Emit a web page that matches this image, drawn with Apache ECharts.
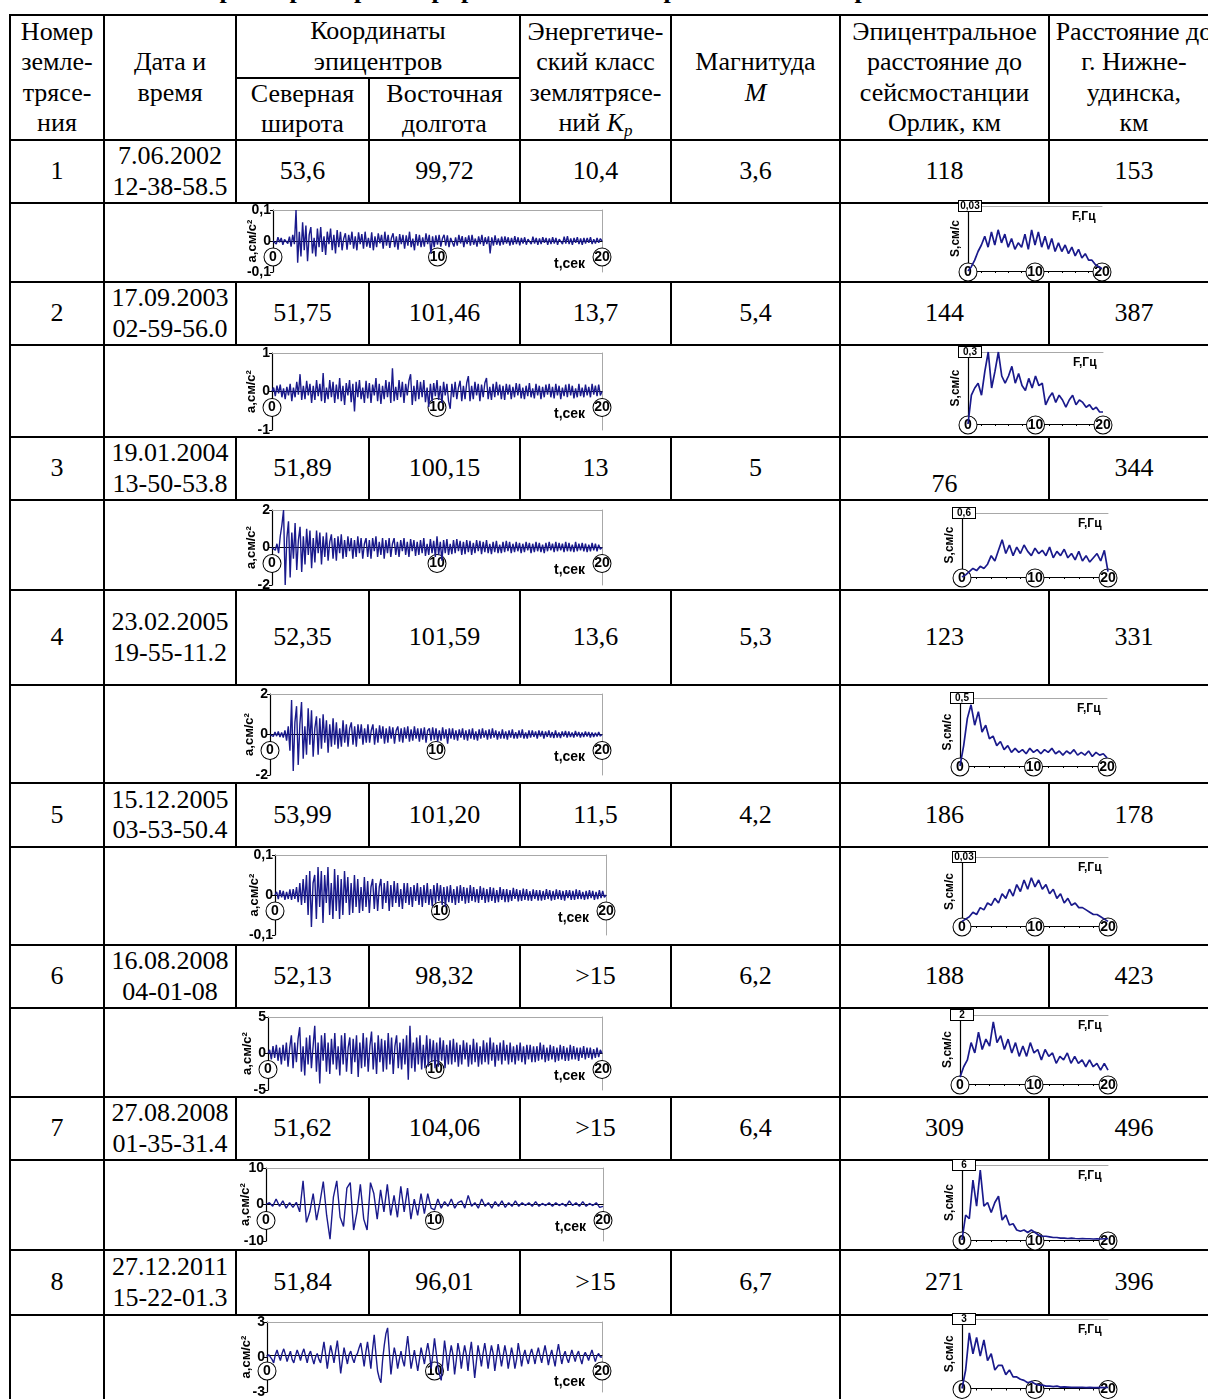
<!DOCTYPE html>
<html>
<head>
<meta charset="utf-8">
<script src="https://cdn.jsdelivr.net/npm/echarts@6/dist/echarts.min.js"></script>
<style>
  body { margin:0; background:#fff; }
  #page { position:relative; width:1208px; height:1399px; overflow:hidden; background:#fff;
          font-family:"Liberation Serif","Times New Roman",serif; font-size:26px; color:#000; }
  .cell { position:absolute; box-sizing:border-box; border:2px solid #000;
          display:flex; align-items:center; justify-content:center; text-align:center; line-height:30.5px; }
  .title { position:absolute; left:0; width:1208px; top:-25px; text-align:center; font-weight:bold; font-size:26px; }
  #plots { position:absolute; left:0; top:0; width:1208px; height:1399px; pointer-events:none; }
  sub { font-size:17px; vertical-align:-5px; line-height:0; }
</style>
</head>
<body>
<div id="page">
  <div class="title">Параметры зарегистрированных землетрясений и спектры их записей</div>
  <div id="cells"></div>
  <div id="plots"></div>
</div>
<script>
// ---- table values ----
const eqNumbers = ['1','2','3','4','5','6','7','8'];
const eqDates = ['7.06.2002','17.09.2003','19.01.2004','23.02.2005','15.12.2005','16.08.2008','27.08.2008','27.12.2011'];
const eqTimes = ['12-38-58.5','02-59-56.0','13-50-53.8','19-55-11.2','03-53-50.4','04-01-08','01-35-31.4','15-22-01.3'];
const latitudes = ['53,6','51,75','51,89','52,35','53,99','52,13','51,62','51,84'];
const longitudes = ['99,72','101,46','100,15','101,59','101,20','98,32','104,06','96,01'];
const energyClass = ['10,4','13,7','13','13,6','11,5','>15','>15','>15'];
const magnitudes = ['3,6','5,4','5','5,3','4,2','6,2','6,4','6,7'];
const distOrlik = ['118','144','76','123','186','188','309','271'];
const distNizhneudinsk = ['153','387','344','331','178','423','496','396'];

// ---- accelerograms, a (cm/s^2), evenly sampled over 0..20 s ----
const accelLimits = [0.1, 1, 2, 2, 0.1, 5, 10, 3];
const accel1 = [0,0.006,-0.01,0.012,-0.004,0.01,-0.012,0.005,0.011,-0.008,
  0.014,-0.018,0.02,-0.01,0.1,-0.07,0.03,-0.05,0.06,-0.03,
  0.05,-0.065,0.02,0.045,-0.04,0.01,-0.05,0.04,-0.02,0.045,
  -0.035,0.015,-0.045,0.03,-0.01,0.04,-0.03,0.02,-0.04,0.035,
  -0.02,0.03,-0.03,0.008,0.025,-0.028,0.02,-0.012,0.03,-0.025,
  0.015,-0.03,0.028,-0.01,0.022,-0.025,0.03,-0.018,0.01,-0.022,
  0.028,-0.03,0.015,-0.02,0.025,-0.008,0.02,-0.025,0.03,-0.015,
  0.02,-0.022,0.01,0.025,-0.02,0.015,-0.028,0.022,-0.01,0.02,
  -0.025,0.018,-0.015,0.03,-0.02,0.008,-0.03,0.022,-0.015,0.02,
  -0.02,0.012,-0.018,0.025,-0.01,0.02,-0.04,0.015,-0.02,0.018,
  -0.012,0.02,-0.018,0.008,0.02,-0.015,0.018,-0.02,0.01,0.015,
  -0.018,0.012,-0.015,0.02,-0.008,0.016,-0.02,0.012,-0.01,0.018,
  -0.015,0.02,-0.012,0.008,-0.018,0.015,-0.01,0.02,-0.016,0.012,
  -0.01,0.015,-0.04,0.012,-0.015,0.018,-0.012,0.008,-0.015,0.014,
  -0.012,0.015,-0.008,0.012,-0.015,0.01,-0.012,0.016,-0.01,0.012,
  -0.014,0.01,-0.008,0.012,-0.012,0.006,0.012,-0.01,0.014,-0.008,
  0.01,-0.012,0.008,-0.01,0.012,-0.006,0.01,-0.012,0.008,-0.01,
  0.012,-0.008,0.01,-0.012,0.006,0.01,-0.01,0.014,-0.008,0.016,
  -0.01,0.008,-0.012,0.01,-0.006,0.012,-0.01,0.008,-0.012,0.01,
  -0.008,0.01,-0.006,0.012,-0.01,0.006,-0.008,0.01,-0.006,0.008,0];
const accel2 = [0,0.1,-0.12,0.15,-0.05,0.18,-0.15,0.08,-0.2,0.12,
  -0.1,0.2,-0.25,0.1,-0.15,0.25,-0.08,0.45,-0.22,0.15,
  -0.2,0.28,-0.1,0.2,-0.3,0.15,-0.22,0.3,-0.12,0.2,
  -0.25,0.48,-0.3,0.1,-0.2,0.3,-0.15,0.25,-0.3,0.18,
  -0.2,0.35,-0.25,0.15,-0.35,0.22,-0.1,0.3,-0.28,0.2,
  -0.52,0.25,-0.15,0.3,-0.2,0.1,-0.3,0.28,-0.18,0.22,
  -0.3,0.18,-0.1,0.35,-0.25,0.2,-0.32,0.15,-0.2,0.3,
  -0.15,0.25,-0.3,0.6,-0.25,0.12,-0.22,0.3,-0.15,0.25,
  -0.3,0.2,-0.1,0.28,0.45,-0.35,0.15,-0.25,0.3,-0.2,
  0.25,-0.15,0.3,-0.28,0.1,-0.4,0.2,-0.25,0.22,-0.12,
  0.3,-0.22,0.15,-0.3,0.25,-0.1,0.2,-0.25,-0.45,0.2,
  -0.15,0.25,-0.2,0.1,0.28,-0.25,0.15,-0.2,0.22,0.4,
  -0.25,0.15,-0.2,0.25,-0.1,0.2,-0.25,0.18,-0.15,0.22,
  0.35,-0.2,0.12,-0.22,0.2,-0.15,0.25,-0.1,0.18,-0.2,
  0.15,-0.22,0.2,-0.08,0.18,-0.2,0.12,-0.15,0.22,-0.1,
  0.2,-0.18,0.1,-0.2,0.15,-0.12,0.22,-0.15,0.08,-0.18,
  0.2,-0.1,0.15,-0.2,0.12,-0.15,0.18,-0.08,0.2,-0.15,
  0.12,-0.18,0.2,-0.1,0.15,-0.2,0.1,-0.12,0.18,-0.15,
  0.2,-0.1,0.15,-0.18,0.08,-0.15,0.2,-0.12,0.1,-0.15,
  0.18,-0.1,0.12,-0.15,0.2,-0.08,0.15,-0.12,0.18,-0.1,0];
const accel3 = [0,0.1,-0.15,0.2,-0.3,0.6,1.2,2.0,-2.0,0.5,
  1.4,-1.6,0.8,-0.6,1.3,-1.2,0.4,1.1,-1.3,0.6,
  -0.9,1.0,-0.4,0.9,-1.1,0.5,-0.8,0.9,-0.3,0.8,
  -0.9,0.6,-0.5,0.8,-0.7,0.3,0.7,-0.6,0.5,-0.7,
  0.6,-0.3,0.7,-0.6,0.4,-0.5,0.6,-0.2,0.5,-0.6,
  0.4,-0.5,0.6,-0.3,0.5,-0.6,0.2,0.5,-0.5,0.4,
  -0.6,0.5,-0.2,0.6,-0.5,0.3,-0.4,0.5,-0.6,0.4,
  -0.3,0.5,-0.5,0.2,0.5,-0.4,0.3,-0.5,0.4,-0.2,
  0.5,-0.4,0.3,-0.5,0.45,-0.2,0.4,-0.45,0.3,-0.4,
  0.4,-0.3,0.5,-0.45,0.2,-0.4,0.45,-0.3,0.35,-0.5,
  0.6,-0.4,0.3,-0.7,0.4,-0.3,0.45,-0.4,0.2,-0.35,
  0.4,-0.3,0.45,-0.2,0.35,-0.4,0.3,-0.35,0.4,-0.25,
  0.35,-0.4,0.25,-0.3,0.4,-0.2,0.35,-0.35,0.3,-0.25,
  0.4,-0.3,0.2,-0.35,0.3,-0.25,0.35,-0.3,0.15,-0.3,
  0.3,-0.25,0.35,-0.2,0.3,-0.3,0.2,-0.25,0.3,-0.2,
  0.25,-0.3,0.2,-0.25,0.3,-0.15,0.25,-0.3,0.2,-0.25,
  0.3,-0.2,0.25,-0.25,0.15,-0.3,0.25,-0.2,0.3,-0.15,
  0.2,-0.25,0.3,-0.2,0.25,-0.15,0.2,-0.25,0.3,-0.2,
  0.25,-0.2,0.15,-0.25,0.3,-0.2,0.2,-0.15,0.25,-0.2,
  0.2,-0.25,0.15,-0.2,0.25,-0.15,0.2,-0.2,0.15,-0.1,0];
const accel4 = [0,0.08,-0.1,0.12,-0.08,0.15,-0.12,0.1,-0.15,0.2,
  -0.3,0.4,-0.8,1.7,-1.8,0.6,1.4,-1.5,0.5,1.6,
  -1.2,0.4,-1.0,1.3,-0.5,1.2,-1.1,0.3,0.9,-1.0,
  0.8,-0.7,1.0,-0.4,0.7,-0.9,0.5,-0.6,0.8,-0.5,
  0.6,-0.7,0.3,-0.6,0.7,-0.4,0.5,-0.6,0.3,0.6,
  -0.5,0.4,-0.6,0.5,-0.2,0.5,-0.5,0.3,-0.4,0.5,
  -0.4,0.2,0.5,-0.5,0.3,-0.4,0.45,-0.2,0.4,-0.45,
  0.3,-0.4,0.4,-0.2,0.35,-0.45,0.2,0.4,-0.35,0.3,
  -0.4,0.35,-0.2,0.4,-0.35,0.25,-0.3,0.4,-0.2,0.3,
  -0.35,0.3,-0.25,0.35,-0.4,0.2,0.3,-0.3,0.35,-0.25,
  0.3,-0.35,0.2,-0.3,0.35,-0.2,0.25,-0.45,0.3,-0.2,
  0.3,-0.25,0.2,-0.3,0.25,-0.15,0.3,-0.25,0.2,-0.3,
  0.25,-0.2,0.3,-0.25,0.15,-0.3,0.25,-0.2,0.3,-0.15,
  0.2,-0.25,0.25,-0.2,0.3,-0.15,0.2,-0.25,0.15,-0.2,
  0.25,-0.2,0.15,-0.25,0.2,-0.15,0.25,-0.2,0.12,-0.2,
  0.2,-0.15,0.25,-0.2,0.1,-0.2,0.2,-0.15,0.2,-0.12,
  0.15,-0.2,0.2,-0.1,0.18,-0.2,0.15,-0.12,0.2,-0.15,
  0.12,-0.18,0.2,-0.15,0.1,-0.18,0.15,-0.1,0.18,-0.15,
  0.15,-0.12,0.1,-0.15,0.18,-0.1,0.12,-0.15,0.1,-0.12,
  0.15,-0.1,0.12,-0.15,0.1,-0.12,0.08,-0.1,0.12,-0.08,0];
const accel5 = [0,0.008,-0.01,0.012,-0.006,0.01,-0.012,0.008,-0.01,0.014,
  -0.012,0.015,-0.01,0.02,-0.018,0.03,-0.025,0.04,-0.02,0.05,
  -0.05,0.06,-0.08,0.03,0.05,-0.06,0.07,-0.03,0.06,-0.07,
  0.05,-0.02,0.07,-0.05,0.03,-0.06,0.065,-0.04,0.05,-0.06,
  0.04,-0.05,0.06,-0.02,0.045,-0.05,0.03,-0.045,0.05,-0.03,
  0.04,-0.045,0.02,-0.04,0.045,-0.03,0.035,-0.045,0.02,0.04,
  -0.035,0.03,-0.04,0.02,0.04,-0.035,0.03,-0.02,0.035,-0.04,
  0.025,-0.03,0.035,-0.02,0.03,-0.03,0.015,-0.035,0.03,-0.02,
  0.03,-0.025,0.02,-0.03,0.025,-0.015,0.03,-0.025,0.02,-0.03,
  0.025,-0.02,0.03,-0.025,0.015,-0.028,0.025,-0.02,0.03,-0.015,
  0.025,-0.025,0.02,-0.03,0.022,-0.018,0.025,-0.02,0.015,-0.025,
  0.022,-0.02,0.025,-0.015,0.02,-0.022,0.018,-0.02,0.025,-0.015,
  0.02,-0.018,0.015,-0.02,0.022,-0.012,0.018,-0.02,0.015,-0.018,
  0.02,-0.015,0.018,-0.02,0.012,-0.018,0.02,-0.012,0.015,-0.018,
  0.015,-0.018,0.012,-0.015,0.018,-0.01,0.015,-0.016,0.012,-0.015,
  0.016,-0.012,0.015,-0.014,0.01,-0.015,0.014,-0.01,0.012,-0.014,
  0.012,-0.014,0.01,-0.012,0.015,-0.01,0.012,-0.014,0.01,-0.012,
  0.014,-0.01,0.012,-0.012,0.01,-0.014,0.012,-0.008,0.012,-0.012,
  0.01,-0.012,0.014,-0.01,0.012,-0.01,0.008,-0.012,0.01,-0.01,
  0.012,-0.008,0.01,-0.012,0.008,-0.01,0.012,-0.008,0.01,-0.006,0];
const accel6 = [0,0.5,-0.8,1.0,-0.6,1.2,-1.0,0.8,-1.5,1.2,
  -1.0,1.5,-1.8,0.8,2.5,-2.0,1.5,-1.2,2.0,3.6,
  -2.5,1.0,-3.0,2.2,-1.5,2.5,-2.0,1.0,3.8,-2.5,
  1.5,-4.1,2.5,-1.0,2.8,-2.5,1.5,-2.8,2.0,-1.5,
  2.8,-2.2,1.0,-3.0,2.5,-1.5,2.8,-2.5,0.8,2.2,
  -2.8,2.0,-1.2,2.5,-3.2,1.5,-2.0,2.8,-1.8,2.2,
  -2.5,1.0,3.0,-2.2,1.5,-2.8,2.5,-1.2,2.0,-2.5,
  1.8,-2.2,2.8,-1.5,2.2,-2.8,1.0,2.5,-2.0,1.5,
  -2.2,2.0,-1.5,2.5,-3.6,3.8,-2.0,1.5,-2.5,2.2,
  -1.5,2.5,-2.2,1.2,-2.0,2.5,-1.8,2.0,-1.2,1.8,
  -2.0,1.5,-1.8,2.2,-1.0,1.8,-2.0,1.2,-1.5,1.8,
  -1.5,2.0,-1.2,1.5,-1.8,1.2,-1.5,1.8,-0.8,1.5,
  -1.8,1.2,-1.5,2.0,-1.2,1.5,-1.8,1.0,-1.5,1.8,
  -1.2,1.5,-1.5,2.2,-1.0,1.5,-1.8,1.2,-1.0,1.5,
  -1.5,1.8,-1.0,1.2,-1.5,1.5,-1.2,1.0,-1.5,1.2,
  -1.0,1.5,-1.2,1.0,-1.5,1.2,-0.8,1.2,-1.2,1.0,
  -1.2,1.0,-1.0,1.5,-0.8,1.2,-1.2,0.8,-1.0,1.2,
  -0.8,1.0,-1.2,0.8,-1.0,1.2,-0.8,1.0,-1.0,0.8,
  -1.0,1.2,-0.8,1.0,-0.8,0.8,-1.0,0.8,-0.6,1.0,
  -0.8,0.8,-0.6,0.8,-0.8,0.6,-0.6,0.8,-0.5,0.5,0];
const accel7 = [0,0.5,-0.5,1.5,-0.5,1.0,-1.0,0.5,-0.8,0.6,
  -2.0,6.5,-4.9,-2.0,3.0,-4.3,0.5,6.3,-3.0,-9.5,
  2.0,6.5,-3.5,-6.0,4.5,6.0,-7.0,-2.0,5.5,-4.0,
  -7.0,6.0,3.0,-4.0,4.0,-2.0,5.5,-3.0,2.5,-3.5,
  5.0,-2.0,4.5,-4.0,1.5,-3.0,3.0,-2.5,3.0,-1.0,
  -1.5,1.5,-1.0,0.8,-0.5,1.5,-1.0,0.5,1.0,-1.0,
  2.5,-0.5,0.5,-1.0,1.5,-0.5,0.5,-1.0,0.8,-0.5,
  1.0,-0.8,0.5,-0.5,1.0,-0.5,0.5,-0.3,0.5,-0.5,
  0.8,-0.5,0.3,-0.3,0.5,-0.5,0.5,-0.3,0.3,-0.5,
  1.0,-0.3,0.5,-0.5,0.8,-0.5,0.3,-0.3,0.5,-0.8,-0.5];
const accel8 = [0,0.2,0.3,-0.2,-0.5,0.2,0.6,0.1,-0.3,0.3,
  0.7,0.2,-0.4,0.1,0.5,-0.2,-0.5,0.1,0.6,0.2,
  -0.3,0.3,0.7,0.1,-0.5,0.2,0.5,-0.1,-0.6,0.0,
  0.3,-0.2,-0.5,0.4,1.3,0.2,-1.0,0.1,1.0,0.3,
  -0.5,0.5,1.4,0.1,-1.4,-0.3,0.8,0.1,-0.6,0.2,
  0.5,-0.1,-0.5,0.1,0.3,0.8,1.2,0.2,-0.8,0.4,
  1.3,0.2,-1.0,0.6,1.9,0.3,-1.2,-1.8,-2.2,-0.3,
  1.0,2.0,2.5,0.5,-1.5,-0.2,0.8,0.1,-1.0,-0.2,
  0.5,-0.3,-0.8,0.6,1.8,0.4,-1.0,-0.2,0.6,-0.3,
  -1.2,-0.2,0.8,0.1,-0.6,0.4,1.2,0.3,-1.0,0.2,
  1.6,0.4,-0.8,-1.5,-2.0,-0.3,1.4,0.3,-1.2,0.1,
  1.0,0.2,-1.5,-0.3,1.2,0.4,-1.0,0.1,1.0,0.2,
  -1.2,0.3,1.3,-0.2,-1.8,-0.4,1.0,0.2,-0.8,0.3,
  1.2,0.2,-1.0,0.1,1.0,0.3,-1.2,-0.1,1.1,0.2,
  -0.8,0.1,1.0,0.2,-1.0,-0.1,0.8,0.1,-1.0,-0.2,
  1.2,0.3,-0.8,0.1,0.6,-0.1,-0.6,0.2,0.7,0.1,
  -0.6,0.2,0.8,0.1,-0.5,0.3,1.0,0.2,-0.7,0.1,
  0.6,-0.1,-0.8,0.3,1.1,0.2,-0.6,0.1,0.5,-0.1,
  -0.5,0.1,0.6,0.1,-0.4,0.2,0.5,-0.1,-0.6,0.1,
  0.4,0.1,-0.3,0.2,0.6,0.1,-0.4,0.1,0.3,0.0,0];

// ---- spectra, S (cm/s), evenly sampled over 0..20 Hz ----
const specMax = [0.03, 0.3, 0.6, 0.5, 0.03, 2, 6, 3];
const specLabels = ['0,03','0,3','0,6','0,5','0,03','2','6','3'];
const spec1 = [0,0.002,0.005,0.009,0.012,0.016,0.011,0.018,0.012,0.019,0.013,0.017,0.011,0.015,0.01,0.013,0.011,0.017,0.01,0.019,
  0.012,0.018,0.011,0.016,0.01,0.015,0.009,0.013,0.009,0.012,0.008,0.011,0.007,0.01,0.006,0.008,0.005,0.005,0.003,0.002,0.001];
const spec2 = [0,0.12,0.15,0.17,0.12,0.22,0.3,0.15,0.22,0.3,0.2,0.17,0.2,0.24,0.17,0.21,0.16,0.14,0.19,0.15,
  0.2,0.16,0.17,0.08,0.11,0.13,0.09,0.12,0.1,0.07,0.1,0.12,0.08,0.1,0.09,0.07,0.08,0.06,0.07,0.05,0.05];
const spec3 = [0,0.02,0.05,0.08,0.06,0.1,0.08,0.12,0.2,0.15,0.25,0.35,0.22,0.3,0.2,0.28,0.22,0.3,0.24,0.2,
  0.27,0.22,0.25,0.2,0.28,0.18,0.24,0.2,0.26,0.18,0.22,0.16,0.24,0.15,0.2,0.14,0.18,0.22,0.15,0.25,0.05];
const spec4 = [0,0.15,0.35,0.45,0.3,0.4,0.25,0.3,0.2,0.22,0.15,0.18,0.12,0.15,0.1,0.13,0.1,0.12,0.09,0.13,
  0.1,0.12,0.09,0.12,0.1,0.13,0.09,0.11,0.08,0.11,0.09,0.12,0.08,0.1,0.08,0.11,0.07,0.1,0.08,0.09,0.06];
const spec5 = [0.002,0.003,0.004,0.006,0.005,0.008,0.007,0.01,0.009,0.012,0.01,0.014,0.012,0.016,0.013,0.018,0.015,0.02,0.016,0.021,
  0.017,0.02,0.016,0.018,0.014,0.016,0.012,0.014,0.01,0.012,0.009,0.01,0.008,0.008,0.007,0.006,0.005,0.005,0.004,0.003,0.002];
const spec6 = [0.2,0.5,0.7,1.2,0.9,1.5,1.0,1.3,1.1,1.8,1.2,1.4,1.0,1.3,0.9,1.2,0.8,1.1,0.8,1.2,
  0.9,1.0,0.7,1.0,0.8,0.9,0.6,0.8,0.7,0.9,0.6,0.8,0.6,0.7,0.5,0.7,0.5,0.6,0.4,0.6,0.4];
const spec7 = [0,2.0,1.7,4.8,2.7,5.6,2.7,3.0,2.2,3.0,3.5,1.6,2.0,1.2,1.3,0.8,0.7,0.8,0.6,0.8,
  0.6,0.4,0.3,0.3,0.25,0.2,0.2,0.15,0.15,0.12,0.15,0.12,0.1,0.12,0.1,0.1,0.08,0.1,0.08,0.1,0.1];
const spec8 = [0,0.8,2.4,1.5,2.2,1.4,2.1,1.2,1.5,0.8,1.0,1.0,0.6,0.8,0.5,0.5,0.4,0.35,0.25,0.3,
  0.2,0.15,0.15,0.1,0.1,0.08,0.1,0.06,0.07,0.06,0.05,0.05,0.05,0.05,0.04,0.05,0.04,0.04,0.05,0.04,0.05];

const accels = [accel1,accel2,accel3,accel4,accel5,accel6,accel7,accel8];
const spectra = [spec1,spec2,spec3,spec4,spec5,spec6,spec7,spec8];
const T_END = 20, F_END = 20;

// ---- layout (px) ----
const colX = [10,104,236,369,520,671,840,1049,1219];
const headTop = 15, headMid = 78, headBottom = 140;
const dataRows = [[140,203],[282,345],[437,500],[590,685],[783,847],[945,1008],[1097,1160],[1250,1315]];
const plotRows = [[203,282],[345,437],[500,590],[685,783],[847,945],[1008,1097],[1160,1250],[1315,1430]];
const seisBox = [[273,210,329,62],[272,353,330,77],[272,510,330,75],[270,694,332,81],[275,855,331,80],[268,1017,334,73],[266,1168,337,73],[267,1322,335,74]];
const specBox = [[968,206,134,65],[968,352,135,72],[962,513,146,64],[960,698,147,68],[962,857,146,69],[960,1015,148,69],[962,1165,146,75],[962,1319,146,76]];

const esc = s => s.replace(/&/g,'&amp;').replace(/</g,'&lt;').replace(/>/g,'&gt;');
const cells = document.getElementById('cells');
function cell(x1,y1,x2,y2,html,style){
  const d = document.createElement('div');
  d.className = 'cell';
  d.style.left = (x1-1)+'px'; d.style.top = (y1-1)+'px';
  d.style.width = (x2-x1+2)+'px'; d.style.height = (y2-y1+2)+'px';
  if (style) Object.assign(d.style, style);
  d.innerHTML = '<div>'+(html || '')+'</div>';
  cells.appendChild(d);
}
// header
cell(colX[0],headTop,colX[1],headBottom,'Номер<br>земле-<br>трясе-<br>ния');
cell(colX[1],headTop,colX[2],headBottom,'Дата и<br>время');
cell(colX[2],headTop,colX[4],headMid,'Координаты<br>эпицентров');
cell(colX[2],headMid,colX[3],headBottom,'Северная<br>широта');
cell(colX[3],headMid,colX[4],headBottom,'Восточная<br>долгота');
cell(colX[4],headTop,colX[5],headBottom,'Энергетиче-<br>ский класс<br>землятрясе-<br>ний <i>K<sub>p</sub></i>');
cell(colX[5],headTop,colX[6],headBottom,'Магнитуда<br><i>M</i>');
cell(colX[6],headTop,colX[7],headBottom,'Эпицентральное<br>расстояние до<br>сейсмостанции<br>Орлик, км');
cell(colX[7],headTop,colX[8],headBottom,'Расстояние до<br>г. Нижне-<br>удинска,<br>км');
// rows
const dataCols = [eqNumbers, null, latitudes, longitudes, energyClass, magnitudes, distOrlik, distNizhneudinsk];
for (let i=0;i<8;i++){
  const [y1,y2] = dataRows[i];
  for (let c=0;c<8;c++){
    const html = c===1 ? esc(eqDates[i])+'<br>'+esc(eqTimes[i]) : esc(dataCols[c][i]);
    const st = (c===6 && i===2) ? {alignItems:'flex-end'} : null;
    cell(colX[c],y1,colX[c+1],y2,html,st);
  }
  const [p1,p2] = plotRows[i];
  cell(colX[0],p1,colX[1],p2,'');
  cell(colX[1],p1,colX[6],p2,'');
  cell(colX[6],p1,colX[8],p2,'');
}

// ---- charts ----
const FONT = '"Liberation Sans", Arial, sans-serif';
const ink = '#000', frame = '#a8a8a8', trace = '#1a1a8c';
const fmt = v => String(v).replace('.', ',');
const circle = {width:17,height:17,lineHeight:18,align:'center',borderRadius:9,borderColor:'#000',borderWidth:1,
  backgroundColor:'#fff',fontWeight:'bold',fontSize:14,fontFamily:FONT,color:'#000'};

const grid=[], xAxis=[], yAxis=[], series=[], graphic=[];
accels.forEach((arr,i)=>{
  const [x,y,w,h] = seisBox[i];
  const a = accelLimits[i];
  const g = grid.length;
  grid.push({left:x, top:y, width:w, height:h});
  const xi = xAxis.length, yi = yAxis.length;
  // time axis sits on the zero line (middle of the symmetric range)
  xAxis.push({type:'value', gridIndex:g, min:0, max:T_END, interval:10, position:'bottom', offset:-h/2,
    axisLine:{onZero:false, lineStyle:{color:ink,width:1.2}}, axisTick:{show:false}, splitLine:{show:false},
    axisLabel:{margin:7, formatter:v=>'{c|'+v+'}', rich:{c:circle}}});
  xAxis.push({type:'value', gridIndex:g, min:0, max:T_END, position:'top',
    axisLine:{onZero:false, lineStyle:{color:frame,width:1}}, axisTick:{show:false}, axisLabel:{show:false}, splitLine:{show:false}});
  yAxis.push({type:'value', gridIndex:g, min:-a, max:a, interval:a, position:'left',
    axisLine:{onZero:false, lineStyle:{color:ink,width:1.2}}, axisTick:{show:true,length:3,lineStyle:{color:ink}}, splitLine:{show:false},
    axisLabel:{margin:2, fontFamily:FONT, fontWeight:'bold', fontSize:14, color:ink, formatter:fmt},
    name:'a,см/с²', nameLocation:'middle', nameRotate:90, nameGap:14, nameMoveOverlap:false,
    nameTextStyle:{fontFamily:FONT, fontWeight:'bold', fontSize:13, color:ink}});
  yAxis.push({type:'value', gridIndex:g, min:-a, max:a, position:'right',
    axisLine:{onZero:false, lineStyle:{color:frame,width:1}}, axisTick:{show:false}, axisLabel:{show:false}, splitLine:{show:false}});
  const dt = T_END/(arr.length-1);
  series.push({type:'line', xAxisIndex:xi, yAxisIndex:yi, showSymbol:false, animation:false,
    lineStyle:{color:trace,width:1.4}, data:arr.map((v,k)=>[k*dt,v])});
  graphic.push({type:'text', left:x+w-48, top:y+h/2+16,
    style:{text:'t,сек', font:'bold 14px '+FONT, fill:ink}});
});

spectra.forEach((arr,i)=>{
  const [x,y,w,h] = specBox[i];
  const m = specMax[i];
  const g = grid.length;
  grid.push({left:x, top:y, width:w, height:h});
  const xi = xAxis.length, yi = yAxis.length;
  xAxis.push({type:'value', gridIndex:g, min:0, max:F_END, interval:10, position:'bottom',
    axisLine:{onZero:false, lineStyle:{color:ink,width:1.2}}, axisTick:{show:false},
    minorTick:{show:true, splitNumber:5, length:2, lineStyle:{color:ink}}, splitLine:{show:false},
    axisLabel:{margin:-8, formatter:v=>'{c|'+v+'}', rich:{c:circle}}});
  xAxis.push({type:'value', gridIndex:g, min:0, max:F_END, position:'top',
    axisLine:{onZero:false, lineStyle:{color:frame,width:1}}, axisTick:{show:false}, axisLabel:{show:false}, splitLine:{show:false}});
  yAxis.push({type:'value', gridIndex:g, min:0, max:m, interval:m, position:'left',
    axisLine:{onZero:false, lineStyle:{color:ink,width:1.2}}, axisTick:{show:false}, splitLine:{show:false},
    axisLabel:{margin:-2, align:'center', formatter:v=> v===m ? '{b|'+specLabels[i]+'}' : '',
      rich:{b:{fontFamily:FONT, fontWeight:'bold', fontSize:10, color:ink, borderColor:ink, borderWidth:1,
        backgroundColor:'#fff', width:20, align:'center', padding:[0,1,0,1], lineHeight:11}}},
    name:'S,см/с', nameLocation:'middle', nameRotate:90, nameGap:6, nameMoveOverlap:false,
    nameTextStyle:{fontFamily:FONT, fontWeight:'bold', fontSize:12, color:ink}});
  const df = F_END/(arr.length-1);
  series.push({type:'line', xAxisIndex:xi, yAxisIndex:yi, showSymbol:false, animation:false,
    lineStyle:{color:trace,width:1.7}, data:arr.map((v,k)=>[k*df,v])});
  graphic.push({type:'text', left:x+w-30, top:y+5,
    style:{text:'F,Гц', font:'bold 12px '+FONT, fill:ink}});
});

const chart = echarts.init(document.getElementById('plots'));
chart.setOption({animation:false, grid, xAxis, yAxis, series, graphic});
</script>
</body>
</html>
